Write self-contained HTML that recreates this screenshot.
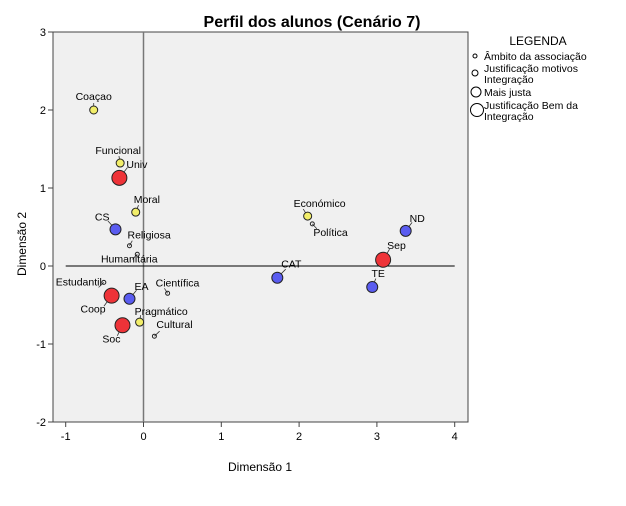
<!DOCTYPE html>
<html><head><meta charset="utf-8"><style>
body{margin:0;background:#fff;}
svg text{font-family:"Liberation Sans",sans-serif;}
</style></head><body>
<svg id="c" width="626" height="501" xmlns="http://www.w3.org/2000/svg">
<rect x="53" y="32" width="415" height="390" fill="#f0f0f0" stroke="#444" stroke-width="1"/>
<text x="312" y="27" font-size="16" font-weight="bold" text-anchor="middle">Perfil dos alunos (Cenário 7)</text>
<text x="260" y="471" font-size="12" text-anchor="middle">Dimensão 1</text>
<text x="26" y="244" font-size="12" text-anchor="middle" transform="rotate(-90 26 244)">Dimensão 2</text>
<g id="axes"></g><g id="marks"></g>
<g>
<text x="538" y="45" font-size="12" text-anchor="middle">LEGENDA</text>
<circle cx="475" cy="56" r="2" fill="none" stroke="#000"/>
<text x="484" y="60" font-size="10.5">Âmbito da associação</text>
<circle cx="475" cy="73" r="3" fill="none" stroke="#000"/>
<text x="484" y="72" font-size="10.5">Justificação motivos</text>
<text x="484" y="83" font-size="10.5">Integração</text>
<circle cx="476" cy="92" r="5" fill="none" stroke="#000"/>
<text x="484" y="96" font-size="10.5">Mais justa</text>
<circle cx="477" cy="110" r="6.5" fill="none" stroke="#000"/>
<text x="484" y="109" font-size="10.5">Justificação Bem da</text>
<text x="484" y="120" font-size="10.5">Integração</text>
</g>
</svg>
<script>
const labels=["Coaçao","Funcional","Univ","Moral","CS","Religiosa","Humanitária","Estudantil","Coop","EA","Científica","Pragmático","Soc","Cultural","Económico","Política","ND","Sep","CAT","TE"];
const xVals=[-0.64,-0.30,-0.31,-0.10,-0.36,-0.18,-0.08,-0.51,-0.41,-0.18,0.31,-0.05,-0.27,0.14,2.11,2.17,3.37,3.08,1.72,2.94];
const yVals=[2.0,1.32,1.13,0.69,0.47,0.26,0.15,-0.21,-0.38,-0.42,-0.35,-0.72,-0.76,-0.90,0.64,0.54,0.45,0.08,-0.15,-0.27];
const groups=["m","m","j","m","b","a","a","a","j","b","a","m","j","a","m","a","b","j","b","b"];
const xTicks=[-1,0,1,2,3,4];
const yTicks=[-2,-1,0,1,2,3];
const style={a:{r:2,f:"none"},m:{r:4,f:"#f2ee6a"},b:{r:5.5,f:"#5a5cf0"},j:{r:7.5,f:"#ee3338"}};
// label offsets (styling, pixels)
const lo=[[0,-10,"middle"],[-2,-9,"middle"],[7,-10,"start"],[-2,-9,"start"],[-6,-9,"end"],[-2,-7,"start"],[-8,8,"middle"],[-2,3,"end"],[-6,17,"end"],[5,-9,"start"],[-12,-7,"start"],[-5,-7,"start"],[-2,17,"end"],[2,-8,"start"],[-14,-9,"start"],[1,12,"start"],[4,-9,"start"],[4,-11,"start"],[14,-10,"middle"],[6,-10,"middle"]];
const X=v=>143.5+v*77.8, Y=v=>266-v*78;
const NS="http://www.w3.org/2000/svg";
const ax=document.getElementById("axes"), mk=document.getElementById("marks");
function el(t,a,p){const e=document.createElementNS(NS,t);for(const k in a)e.setAttribute(k,a[k]);p.appendChild(e);return e;}
let l=el("line",{x1:X(0),x2:X(0),y1:32,y2:422,stroke:"#777","stroke-width":1.5},ax);


l=el("line",{x1:X(-1),x2:X(4),y1:Y(0),y2:Y(0),stroke:"#000","stroke-width":1},ax);


xTicks.forEach(t=>{const a=el("line",{x1:X(t),x2:X(t),y1:422,y2:427,stroke:"#444"},ax);


const s=el("text",{x:X(t),y:440,"font-size":11,"text-anchor":"middle"},ax);s.textContent=t;

});
yTicks.forEach(t=>{const a=el("line",{x1:48,x2:53,y1:Y(t),y2:Y(t),stroke:"#444"},ax);


const s=el("text",{x:46,y:Y(t)+4,"font-size":11,"text-anchor":"end"},ax);s.textContent=t;

});
labels.forEach((n,i)=>{const cx=X(xVals[i]),cy=Y(yVals[i]),s=style[groups[i]],o=lo[i];
const ln=el("line",{x1:cx,y1:cy,x2:cx+o[0]*0.6+(o[2]=="start"?4:o[2]=="end"?-4:0),y2:cy+(o[1]<0?-s.r-3:s.r+3),stroke:"#333","stroke-width":0.8},mk);


const c=el("circle",{cx:cx,cy:cy,r:s.r,fill:s.f,stroke:"#222","stroke-width":1},mk);


const t=el("text",{x:cx+o[0],y:cy+o[1],"font-size":10.5,"text-anchor":o[2]},mk);t.textContent=n;

});
</script>
</body></html>
